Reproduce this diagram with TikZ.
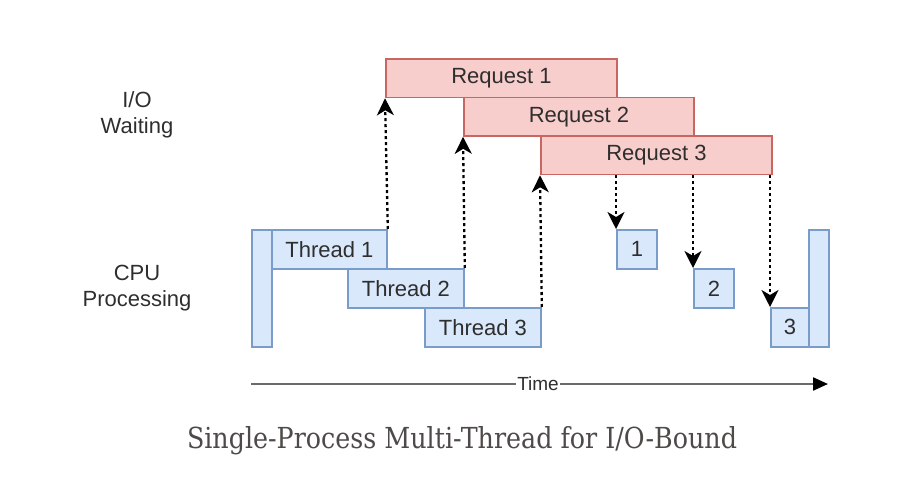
\documentclass[tikz,border=0pt]{standalone}
\usepackage{fontspec}
\setmainfont{Liberation Sans}
\newfontfamily\capfont{DejaVu Serif}
\usetikzlibrary{arrows.meta}
\definecolor{redfill}{HTML}{F8CECC}
\definecolor{redline}{HTML}{C86662}
\definecolor{bluefill}{HTML}{DAE8FC}
\definecolor{blueline}{HTML}{7A9CCB}
\definecolor{txt}{HTML}{2E2E2E}
\definecolor{captxt}{HTML}{4E4A48}
\definecolor{axisgray}{HTML}{6A6A6A}
\tikzset{
  reqbox/.style={draw=redline, fill=redfill, line width=1.8pt, inner sep=0pt, anchor=north west,
    minimum height=38.5pt, text=txt, font=\fontsize{22}{26}\selectfont},
  cpubox/.style={draw=blueline, fill=bluefill, line width=1.8pt, inner sep=0pt, anchor=north west,
    minimum height=39pt, text=txt, font=\fontsize{22}{26}\selectfont},
  lbl/.style={text=txt, align=center, font=\fontsize{22}{26}\selectfont, inner sep=0pt},
  iolink/.style={black, line width=2.3pt, dash pattern=on 3pt off 3pt,
    -{Stealth[length=17pt,width=17pt,inset=5pt,sep=0pt]}},
}
\begin{document}
\begin{tikzpicture}[x=1pt,y=-1pt]
\useasboundingbox (0,0) rectangle (912,498);
% I/O requests
\node[reqbox, minimum width=231pt] (req1) at (385,58) {Request 1};
\node[reqbox, minimum width=230pt] (req2) at (463,96.5) {Request 2};
\node[reqbox, minimum width=231pt] (req3) at (540,135) {Request 3};
% CPU boxes
\node[cpubox, minimum width=20pt, minimum height=117pt] (barL) at (251,229) {};
\node[cpubox, minimum width=115pt] (th1) at (271,229) {Thread 1};
\node[cpubox, minimum width=116pt] (th2) at (347,268) {Thread 2};
\node[cpubox, minimum width=116pt] (th3) at (424,307) {Thread 3};
\node[cpubox, minimum width=40pt] (b1) at (616,229) {1};
\node[cpubox, minimum width=40pt] (b2) at (693,268) {2};
\node[cpubox, minimum width=38pt] (b3) at (770,307) {3};
\node[cpubox, minimum width=20pt, minimum height=117pt] (barR) at (808,229) {};
% labels
\node[lbl] (io) at (137,115) {I/O\\Waiting};
\node[lbl] (cpu) at (137,288) {CPU\\Processing};
% arrows up
\draw[iolink] (th1.north east) -- (req1.south west);
\draw[iolink] (th2.north east) -- (req2.south west);
\draw[iolink] (th3.north east) -- (req3.south west);
% arrows down
\draw[iolink] (b1.north west |- req3.south) -- (b1.north west);
\draw[iolink] (b2.north west |- req3.south) -- (b2.north west);
\draw[iolink] (b3.north west |- req3.south) -- (b3.north west);
% time axis
\coordinate (tstart) at (251,384);
\coordinate (tend) at (828,384);
\draw[axisgray, line width=2.2pt, -{Triangle[length=15pt,width=13pt,color=black]}] (tstart) -- (tend);
\node[fill=white, inner sep=1pt, text=txt, font=\fontsize{19}{22}\selectfont] (time) at (538,384) {Time};
% caption
\node[anchor=base, inner sep=0pt, text=captxt] (cap) at (462,448)
  {\resizebox{550pt}{22pt}{\capfont Single-Process Multi-Thread for I/O-Bound}};
\end{tikzpicture}
\end{document}
